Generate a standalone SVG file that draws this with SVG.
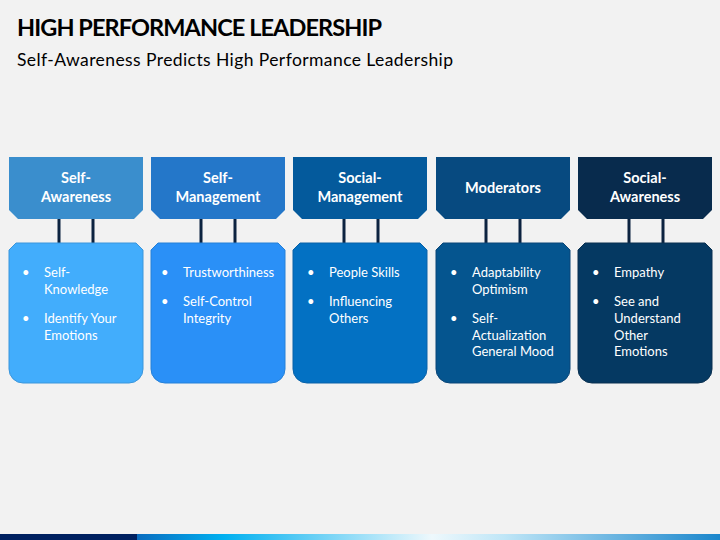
<svg xmlns="http://www.w3.org/2000/svg" width="720" height="540" viewBox="0 0 720 540">
<defs>
<linearGradient id="bar" x1="0" y1="0" x2="720" y2="0" gradientUnits="userSpaceOnUse">
<stop offset="0.19" stop-color="#0a6cbf"/>
<stop offset="0.31" stop-color="#00b0f0"/>
<stop offset="0.6" stop-color="#eef8fc"/>
<stop offset="0.7" stop-color="#bfe6f7"/>
<stop offset="1" stop-color="#1a86cc"/>
</linearGradient>
<style>
.title{font-family:Lato,"Liberation Sans",sans-serif;font-weight:bold;font-size:23.5px;fill:#000}
.sub{font-family:Lato,"Liberation Sans",sans-serif;font-size:17.5px;fill:#000}
.hd{font-family:Lato,"Liberation Sans",sans-serif;font-weight:bold;font-size:14.5px;fill:#fff;text-anchor:middle}
.bt{font-family:Lato,"Liberation Sans",sans-serif;font-size:13px;fill:#fff}
.conn line{stroke:#0c2340;stroke-width:3}
</style>
</defs>
<rect x="0" y="0" width="720" height="540" fill="#f2f2f2"/>
<text class="title" x="17" y="36" textLength="365">HIGH PERFORMANCE LEADERSHIP</text>
<text class="sub" x="17" y="66" textLength="436">Self-Awareness Predicts High Performance Leadership</text>

<g id="connectors" class="conn">
<line x1="59" y1="218" x2="59" y2="244"/>
<line x1="93" y1="218" x2="93" y2="244"/>
<line x1="201" y1="218" x2="201" y2="244"/>
<line x1="235" y1="218" x2="235" y2="244"/>
<line x1="344" y1="218" x2="344" y2="244"/>
<line x1="378" y1="218" x2="378" y2="244"/>
<line x1="486" y1="218" x2="486" y2="244"/>
<line x1="520" y1="218" x2="520" y2="244"/>
<line x1="629" y1="218" x2="629" y2="244"/>
<line x1="663" y1="218" x2="663" y2="244"/>
</g>

<g id="node-self-awareness">
<path d="M9,157 H143 V210 L134,219 H18 L9,210 Z" fill="#3a8ecd"/>
<text class="hd" x="76" y="183">Self-</text>
<text class="hd" x="76" y="202">Awareness</text>
<path d="M16,243 H136 L143,250 V369 A14,14 0 0 1 129,383 H23 A14,14 0 0 1 9,369 V250 Z" fill="#42adfc" stroke="#3a96dc" stroke-width="1"/>
<text class="bt" x="22" y="277">•</text>
<text class="bt" x="44" y="277">Self-</text>
<text class="bt" x="44" y="294">Knowledge</text>
<text class="bt" x="22" y="323">•</text>
<text class="bt" x="44" y="323">Identify Your</text>
<text class="bt" x="44" y="340">Emotions</text>
</g>

<g id="node-self-management">
<path d="M151,157 H285 V210 L276,219 H160 L151,210 Z" fill="#2477c9"/>
<text class="hd" x="218" y="183">Self-</text>
<text class="hd" x="218" y="202">Management</text>
<path d="M158,243 H278 L285,250 V369 A14,14 0 0 1 271,383 H165 A14,14 0 0 1 151,369 V250 Z" fill="#2a90f7" stroke="#2580d8" stroke-width="1"/>
<text class="bt" x="161" y="277">•</text>
<text class="bt" x="183" y="277">Trustworthiness</text>
<text class="bt" x="161" y="306">•</text>
<text class="bt" x="183" y="306">Self-Control</text>
<text class="bt" x="183" y="323">Integrity</text>
</g>

<g id="node-social-management">
<path d="M293,157 H427 V210 L418,219 H302 L293,210 Z" fill="#045a9c"/>
<text class="hd" x="360" y="183">Social-</text>
<text class="hd" x="360" y="202">Management</text>
<path d="M300,243 H420 L427,250 V369 A14,14 0 0 1 413,383 H307 A14,14 0 0 1 293,369 V250 Z" fill="#0371c3" stroke="#0a62a8" stroke-width="1"/>
<text class="bt" x="307" y="277">•</text>
<text class="bt" x="329" y="277">People Skills</text>
<text class="bt" x="307" y="306">•</text>
<text class="bt" x="329" y="306">Influencing</text>
<text class="bt" x="329" y="323">Others</text>
</g>

<g id="node-moderators">
<path d="M436,157 H570 V210 L561,219 H445 L436,210 Z" fill="#074a80"/>
<text class="hd" x="503" y="193">Moderators</text>
<path d="M443,243 H563 L570,250 V369 A14,14 0 0 1 556,383 H450 A14,14 0 0 1 436,369 V250 Z" fill="#05558f" stroke="#0a4678" stroke-width="1"/>
<text class="bt" x="450" y="277">•</text>
<text class="bt" x="472" y="277">Adaptability</text>
<text class="bt" x="472" y="294">Optimism</text>
<text class="bt" x="450" y="323">•</text>
<text class="bt" x="472" y="323">Self-</text>
<text class="bt" x="472" y="340">Actualization</text>
<text class="bt" x="472" y="356">General Mood</text>
</g>

<g id="node-social-awareness">
<path d="M578,157 H712 V210 L703,219 H587 L578,210 Z" fill="#082b4d"/>
<text class="hd" x="645" y="183">Social-</text>
<text class="hd" x="645" y="202">Awareness</text>
<path d="M585,243 H705 L712,250 V369 A14,14 0 0 1 698,383 H592 A14,14 0 0 1 578,369 V250 Z" fill="#053962" stroke="#0a3050" stroke-width="1"/>
<text class="bt" x="592" y="277">•</text>
<text class="bt" x="614" y="277">Empathy</text>
<text class="bt" x="592" y="306">•</text>
<text class="bt" x="614" y="306">See and</text>
<text class="bt" x="614" y="323">Understand</text>
<text class="bt" x="614" y="340">Other</text>
<text class="bt" x="614" y="356">Emotions</text>
</g>

<rect x="136" y="534" width="584" height="6" fill="url(#bar)"/>
<rect x="0" y="534" width="137" height="6" fill="#002060"/>
</svg>
